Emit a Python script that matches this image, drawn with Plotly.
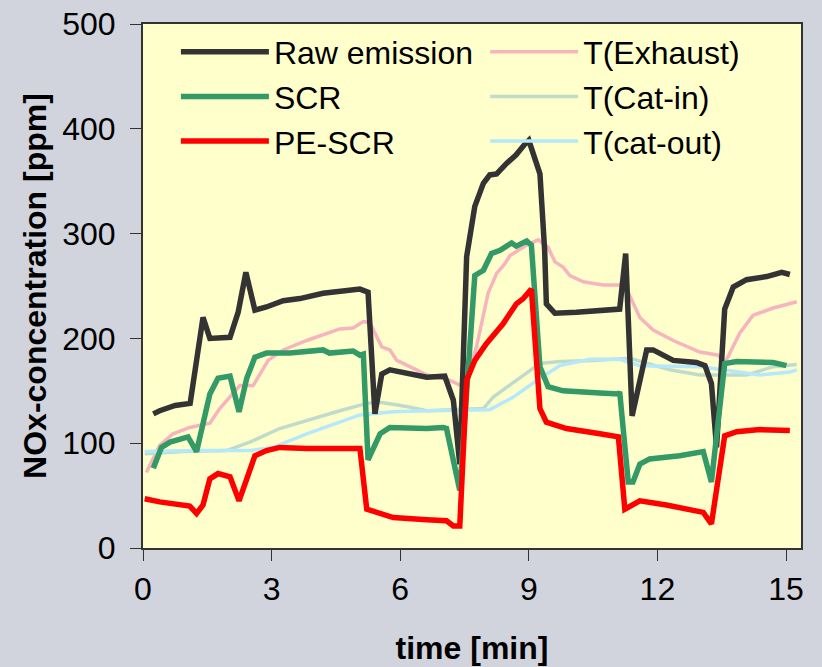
import plotly.graph_objects as go

# NOx concentration [ppm] over time [min]
raw_t = [0.24, 0.39, 0.75, 1.10, 1.40, 1.56, 2.03, 2.22, 2.40, 2.61, 2.88, 3.27, 3.66, 4.20, 5.06, 5.25,
         5.41, 5.57, 5.76, 6.38, 6.62, 7.04, 7.24, 7.39, 7.55, 7.74, 7.94, 8.09, 8.25, 8.48, 8.70, 8.90, 9.00,
         9.26, 9.37, 9.41, 9.61, 10.11, 10.66, 11.12, 11.26, 11.41, 11.75, 11.90, 12.37, 12.91, 13.11, 13.26,
         13.38, 13.57, 13.77, 14.08, 14.55, 14.90, 15.09]
raw_v = [128, 131, 136, 138, 220, 200, 201, 225, 263, 227, 230, 236, 238, 243, 247, 244,
         128, 166, 170, 165, 163, 164, 141, 80, 278, 326, 348, 356, 357, 367, 375, 385, 389,
         357, 284, 233, 224, 225, 226, 228, 281, 126, 189, 189, 179, 177, 174, 157,
         96, 228, 249, 256, 259, 263, 261]

scr_t = [0.24, 0.43, 0.63, 1.05, 1.25, 1.56, 1.75, 2.03, 2.24, 2.42, 2.61, 2.88, 3.43, 4.20, 4.35, 4.90, 5.06,
         5.14, 5.25, 5.53, 5.76, 6.62, 7.00, 7.08, 7.39, 7.74, 7.94, 8.13, 8.33, 8.60, 8.71, 8.95, 9.06,
         9.26, 9.45, 9.80, 10.66, 11.09, 11.12, 11.32, 11.43, 11.59, 11.82, 12.52, 13.07, 13.26,
         13.57, 13.85, 14.70, 15.01]
scr_v = [76, 96, 101, 106, 92, 147, 162, 164, 130, 162, 182, 186, 186, 189, 186, 188, 184,
         185, 84, 109, 115, 114, 115, 114, 55, 260, 265, 281, 284, 291, 288, 293, 289,
         173, 154, 150, 148, 147, 149, 63, 63, 80, 85, 88, 92, 63,
         176, 178, 177, 174]

pe_t = [0.04, 0.39, 1.09, 1.25, 1.40, 1.56, 1.75, 2.03, 2.24, 2.61, 2.88, 3.19, 3.82, 4.60, 5.06,
        5.22, 5.84, 6.62, 7.08, 7.24, 7.39, 7.55, 7.74, 8.01, 8.40, 8.71, 8.87, 9.06,
        9.26, 9.41, 9.88, 10.66, 11.09, 11.24, 11.59, 12.21, 13.07, 13.26, 13.57, 13.85, 14.39, 15.09]
pe_v = [47, 44, 40, 33, 41, 66, 71, 68, 45, 88, 93, 96, 95, 95, 95,
        37, 29, 27, 26, 21, 21, 160, 179, 195, 214, 233, 238, 247,
        133, 120, 114, 109, 106, 37, 45, 41, 34, 23, 107, 111, 113, 112]

# Temperatures (plotted on the same axis)
tex_t = [0.08, 0.39, 0.70, 1.09, 1.56, 1.79, 2.26, 2.57, 2.92, 3.27, 3.82, 4.59, 4.90, 5.14, 5.29,
         5.57, 5.76, 5.92, 6.38, 6.62, 7.16, 7.47, 7.78, 8.05, 8.25, 8.44, 8.56, 8.95, 9.22, 9.45,
         9.61, 9.80, 9.96, 10.27, 10.74, 11.24, 11.59, 11.90, 12.37, 12.99, 13.42, 13.57, 13.92,
         14.23, 14.70, 15.25]
tex_v = [72, 98, 109, 115, 119, 133, 155, 155, 179, 189, 198, 209, 210, 216, 215,
         192, 189, 179, 170, 165, 160, 154, 192, 243, 262, 271, 279, 289, 294, 287,
         273, 268, 260, 254, 251, 251, 220, 208, 198, 187, 184, 176, 205,
         222, 229, 235]

tci_t = [0.04, 0.94, 1.95, 2.49, 3.19, 3.82, 4.59, 5.22, 5.53, 6.15, 6.62, 7.94, 8.17, 8.71, 9.26,
         9.72, 10.50, 11.36, 12.29, 12.99, 14.08, 14.70, 15.25]
tci_v = [90, 92, 93, 101, 114, 122, 131, 138, 139, 135, 131, 133, 144, 160, 176,
         178, 179, 181, 170, 165, 165, 173, 175]

tco_t = [0.04, 1.25, 2.49, 3.04, 3.82, 4.59, 5.06, 5.84, 6.62, 8.09, 8.64, 9.26, 9.72, 10.42,
         11.12, 11.59, 12.99, 13.53, 14.39, 15.09, 15.25]
tco_v = [92, 93, 93, 96, 109, 120, 127, 130, 131, 132, 144, 162, 174, 180,
         180, 174, 173, 170, 165, 168, 170]

x_ticks = [0, 3, 6, 9, 12, 15]
y_ticks = [0, 100, 200, 300, 400, 500]

FONT = "Liberation Sans, Arial, sans-serif"

fig = go.Figure()

# thin temperature traces first so the NOx curves sit on top
temp_series = [
    ("T(Exhaust)", tex_t, tex_v, "#F7B4BE"),
    ("T(Cat-in)", tci_t, tci_v, "#BFDCCB"),
    ("T(cat-out)", tco_t, tco_v, "#B4E8FA"),
]
for name, t, v, c in temp_series:
    fig.add_trace(go.Scatter(x=t, y=v, name=name, mode="lines",
                             line=dict(color=c, width=3.5), legend="legend2"))

nox_series = [
    ("Raw emission", raw_t, raw_v, "#333333"),
    ("SCR", scr_t, scr_v, "#339966"),
    ("PE-SCR", pe_t, pe_v, "#FF0000"),
]
for name, t, v, c in nox_series:
    fig.add_trace(go.Scatter(x=t, y=v, name=name, mode="lines",
                             line=dict(color=c, width=5.5), legend="legend"))

axis_common = dict(
    showgrid=False, zeroline=False, showline=True, linecolor="#333333", linewidth=2,
    mirror=True, ticks="outside", ticklen=11, tickwidth=1, tickcolor="#333333",
    tickfont=dict(family=FONT, size=32, color="#000000"), automargin=False,
)

fig.update_layout(
    width=822, height=667,
    paper_bgcolor="#D1D4DC", plot_bgcolor="#FFFFCC",
    margin=dict(l=143, r=21, t=24, b=119),
    font=dict(family=FONT, color="#000000"),
    xaxis=dict(range=[0, 15.35], tickvals=x_ticks, ticklabelstandoff=1,
               title=dict(text="<b>time [min]</b>", font=dict(family=FONT, size=32), standoff=30),
               **axis_common),
    yaxis=dict(range=[0, 500], tickvals=y_ticks, ticklabelstandoff=8,
               title=dict(text="<b>NOx-concentration [ppm]</b>", font=dict(family=FONT, size=32), standoff=6),
               **axis_common),
    legend=dict(x=0.05, y=0.999, xanchor="left", yanchor="top", bgcolor="rgba(0,0,0,0)",
                font=dict(family=FONT, size=32), itemwidth=88, traceorder="normal", tracegroupgap=0),
    legend2=dict(x=0.52, y=0.999, xanchor="left", yanchor="top", bgcolor="rgba(0,0,0,0)",
                 font=dict(family=FONT, size=32), itemwidth=88, traceorder="normal", tracegroupgap=0),
)

fig.write_html("out.html")
